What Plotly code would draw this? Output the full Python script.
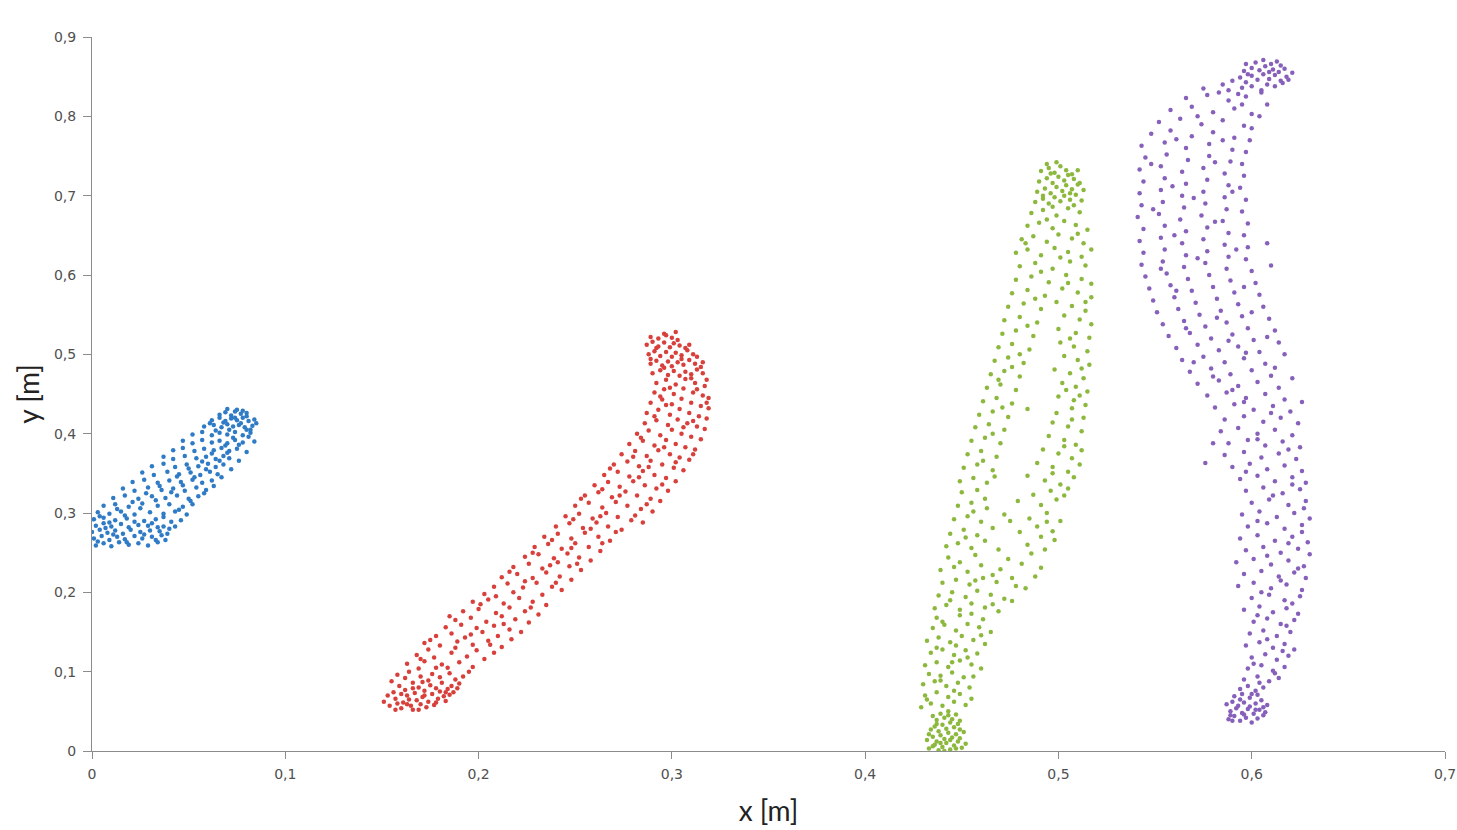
import plotly.graph_objects as go

# ---- data, (x [m], y [m]) pairs per series ----
blue_points = [
    (0.002,0.259),(0.006,0.262),(0.010,0.258),(0.014,0.263),(0.019,0.260),(0.024,0.262),(0.029,0.259),(0.034,0.263),(0.038,0.266),
    (0.001,0.268),(0.005,0.271),(0.009,0.266),(0.013,0.270),(0.017,0.267),(0.022,0.271),(0.026,0.268),(0.031,0.270),(0.036,0.272),
    (0.000,0.276),(0.004,0.279),(0.008,0.275),(0.012,0.278),(0.016,0.274),(0.020,0.279),(0.025,0.276),(0.030,0.278),(0.035,0.277),(0.039,0.274),
    (0.002,0.284),(0.006,0.287),(0.010,0.283),(0.015,0.286),(0.019,0.282),(0.024,0.285),(0.029,0.284),(0.034,0.282),(0.040,0.280),(0.043,0.283),
    (0.001,0.292),(0.006,0.294),(0.012,0.291),(0.018,0.293),(0.027,0.290),(0.033,0.292),(0.041,0.289),(0.046,0.291),
    (0.003,0.301),(0.009,0.299),(0.015,0.302),(0.022,0.298),(0.030,0.301),(0.037,0.299),(0.043,0.302),(0.049,0.298),
    (0.006,0.309),(0.012,0.311),(0.019,0.308),(0.026,0.312),(0.034,0.309),(0.040,0.311),(0.047,0.308),(0.052,0.311),
    (0.011,0.319),(0.017,0.322),(0.024,0.318),(0.031,0.321),(0.038,0.319),(0.044,0.322),(0.050,0.318),(0.055,0.321),
    (0.016,0.331),(0.022,0.328),(0.029,0.332),(0.036,0.329),(0.042,0.331),(0.048,0.328),(0.054,0.332),(0.059,0.329),
    (0.021,0.339),(0.027,0.342),(0.034,0.338),(0.040,0.341),(0.046,0.339),(0.052,0.342),(0.057,0.338),(0.062,0.341),
    (0.026,0.351),(0.032,0.348),(0.039,0.352),(0.045,0.349),(0.051,0.351),(0.056,0.348),(0.061,0.352),(0.065,0.349),
    (0.031,0.359),(0.037,0.362),(0.043,0.358),(0.049,0.361),(0.055,0.359),(0.060,0.362),(0.064,0.358),(0.068,0.361),
    (0.037,0.371),(0.042,0.368),(0.048,0.372),(0.054,0.369),(0.059,0.371),(0.064,0.368),(0.068,0.372),(0.071,0.369),
    (0.042,0.379),(0.047,0.382),(0.053,0.378),(0.058,0.381),(0.063,0.379),(0.067,0.382),(0.071,0.378),(0.075,0.381),
    (0.047,0.391),(0.052,0.388),(0.057,0.392),(0.062,0.389),(0.066,0.391),(0.070,0.388),(0.074,0.392),(0.078,0.389),
    (0.052,0.399),(0.057,0.402),(0.062,0.398),(0.066,0.401),(0.070,0.399),(0.074,0.402),(0.078,0.398),(0.082,0.401),
    (0.058,0.409),(0.063,0.411),(0.067,0.408),(0.070,0.412),(0.073,0.409),(0.076,0.411),(0.079,0.408),(0.083,0.410),(0.085,0.413),
    (0.062,0.417),(0.066,0.420),(0.069,0.416),(0.072,0.419),(0.075,0.417),(0.078,0.420),(0.081,0.416),(0.084,0.418),
    (0.066,0.424),(0.069,0.427),(0.072,0.423),(0.074,0.428),(0.077,0.425),(0.080,0.422),
    (0.070,0.431),(0.075,0.430),(0.078,0.429),
    (0.004,0.296),(0.013,0.305),(0.021,0.314),(0.028,0.325),(0.035,0.334),(0.044,0.346),(0.050,0.356),(0.057,0.365),(0.062,0.375),(0.069,0.385),
    (0.073,0.395),(0.080,0.405),(0.009,0.288),(0.017,0.297),(0.025,0.306),(0.033,0.316),(0.041,0.326),(0.047,0.335),(0.053,0.345),(0.059,0.355),
    (0.066,0.366),(0.070,0.376),(0.076,0.386),(0.081,0.396),(0.031,0.287),(0.037,0.295),(0.045,0.304),(0.051,0.315),(0.058,0.325),(0.063,0.334),
    (0.067,0.345),(0.072,0.355),(0.076,0.366),(0.080,0.377),(0.084,0.390),(0.003,0.264),(0.011,0.273),(0.018,0.263),(0.027,0.273),(0.033,0.266),
    (0.037,0.283),(0.007,0.281),(0.022,0.289),(0.064,0.404),(0.068,0.414),(0.071,0.405),(0.074,0.420),(0.077,0.413),(0.080,0.426),(0.082,0.405),
    (0.061,0.413),
]

red_points = [
    (0.151,0.062),(0.154,0.057),(0.157,0.066),(0.160,0.054),(0.161,0.061),(0.163,0.070),(0.165,0.057),(0.166,0.052),(0.168,0.064),(0.170,0.059),
    (0.171,0.068),(0.173,0.055),(0.174,0.062),(0.176,0.072),(0.177,0.058),(0.179,0.066),(0.180,0.075),(0.182,0.069),(0.184,0.078),(0.185,0.071),
    (0.153,0.070),(0.156,0.074),(0.158,0.060),(0.162,0.077),(0.164,0.065),(0.167,0.073),(0.169,0.080),(0.172,0.076),(0.175,0.083),(0.178,0.079),
    (0.181,0.086),(0.183,0.063),(0.186,0.082),(0.188,0.090),(0.159,0.082),(0.155,0.088),(0.162,0.092),(0.166,0.086),(0.170,0.094),(0.174,0.089),
    (0.187,0.074),(0.190,0.085),(0.176,0.097),(0.180,0.093),(0.158,0.096),(0.164,0.100),(0.169,0.104),(0.185,0.098),(0.192,0.094),(0.178,0.105),
    (0.163,0.110),(0.172,0.113),(0.181,0.109),(0.190,0.112),(0.197,0.106),(0.168,0.121),(0.177,0.118),(0.186,0.124),(0.194,0.119),(0.203,0.116),
    (0.174,0.128),(0.199,0.127),(0.208,0.124),
    (0.172,0.136),(0.180,0.133),(0.189,0.138),(0.197,0.134),(0.205,0.139),(0.212,0.131),(0.178,0.145),(0.186,0.148),(0.193,0.143),(0.202,0.150),
    (0.210,0.145),(0.217,0.141),(0.183,0.156),(0.191,0.159),(0.199,0.155),(0.208,0.158),(0.216,0.153),(0.222,0.150),
    (0.188,0.165),(0.196,0.168),(0.204,0.163),(0.212,0.170),(0.219,0.166),(0.226,0.162),(0.192,0.176),(0.200,0.179),(0.209,0.174),(0.216,0.181),
    (0.224,0.176),(0.231,0.172),(0.197,0.188),(0.205,0.191),(0.213,0.186),(0.221,0.193),(0.228,0.188),(0.235,0.184),(0.203,0.198),(0.218,0.200),(0.233,0.197),
    (0.208,0.207),(0.215,0.211),(0.223,0.206),(0.230,0.212),(0.238,0.207),(0.243,0.203),(0.212,0.219),(0.220,0.223),(0.228,0.218),(0.235,0.225),
    (0.242,0.220),(0.248,0.216),(0.218,0.232),(0.226,0.236),(0.233,0.230),(0.241,0.238),(0.247,0.233),(0.253,0.228),(0.224,0.245),(0.231,0.248),
    (0.239,0.243),(0.246,0.249),(0.252,0.244),(0.258,0.240),
    (0.229,0.257),(0.236,0.261),(0.243,0.255),(0.250,0.262),(0.257,0.257),(0.263,0.252),(0.234,0.270),(0.241,0.274),(0.248,0.268),(0.255,0.275),
    (0.262,0.270),(0.268,0.265),(0.240,0.283),(0.247,0.287),(0.254,0.281),(0.261,0.288),(0.267,0.283),(0.274,0.279),(0.245,0.296),(0.252,0.299),
    (0.259,0.293),(0.266,0.300),(0.272,0.295),(0.279,0.291),(0.285,0.288),
    (0.250,0.309),(0.257,0.313),(0.264,0.307),(0.271,0.314),(0.277,0.309),(0.284,0.305),(0.290,0.302),(0.255,0.322),(0.262,0.326),(0.269,0.320),
    (0.276,0.327),(0.282,0.322),(0.289,0.318),(0.294,0.315),(0.260,0.335),(0.267,0.339),(0.273,0.333),(0.280,0.340),(0.286,0.335),(0.292,0.331),
    (0.298,0.328),(0.265,0.348),(0.272,0.352),(0.278,0.346),(0.285,0.353),(0.291,0.348),(0.297,0.344),(0.302,0.340),
    (0.270,0.361),(0.277,0.365),(0.283,0.359),(0.289,0.366),(0.295,0.361),(0.301,0.357),(0.306,0.354),(0.274,0.374),(0.281,0.378),(0.287,0.372),
    (0.293,0.379),(0.299,0.374),(0.304,0.370),(0.309,0.367),(0.278,0.387),(0.285,0.391),(0.291,0.385),(0.297,0.392),(0.302,0.387),(0.307,0.383),
    (0.312,0.380),(0.282,0.400),(0.288,0.404),(0.294,0.398),(0.300,0.405),(0.305,0.400),(0.310,0.396),(0.315,0.393),(0.286,0.413),(0.292,0.417),
    (0.298,0.411),(0.303,0.418),(0.308,0.413),(0.313,0.409),(0.317,0.406),
    (0.287,0.426),(0.293,0.430),(0.299,0.424),(0.304,0.431),(0.309,0.426),(0.314,0.422),(0.318,0.419),(0.289,0.439),(0.295,0.443),(0.300,0.437),
    (0.305,0.444),(0.310,0.439),(0.315,0.435),(0.319,0.432),(0.291,0.452),(0.296,0.456),(0.301,0.450),(0.306,0.457),(0.311,0.452),(0.316,0.448),
    (0.319,0.445),(0.292,0.464),(0.297,0.468),(0.302,0.462),(0.307,0.469),(0.312,0.464),(0.317,0.460),
    (0.290,0.476),(0.294,0.480),(0.298,0.474),(0.301,0.479),(0.304,0.473),(0.307,0.478),(0.310,0.475),(0.313,0.481),(0.316,0.476),
    (0.289,0.488),(0.292,0.492),(0.295,0.486),(0.298,0.491),(0.300,0.485),(0.303,0.490),(0.306,0.487),(0.309,0.493),(0.312,0.488),(0.315,0.484),
    (0.288,0.500),(0.291,0.504),(0.294,0.498),(0.297,0.503),(0.300,0.497),(0.302,0.502),(0.305,0.499),(0.308,0.505),(0.311,0.500),
    (0.287,0.512),(0.290,0.516),(0.293,0.510),(0.296,0.515),(0.299,0.509),(0.301,0.514),(0.304,0.511),(0.307,0.508),
    (0.289,0.522),(0.293,0.520),(0.297,0.524),(0.300,0.521),(0.303,0.518),
    (0.157,0.052),(0.163,0.059),(0.169,0.052),(0.172,0.070),(0.178,0.061),(0.183,0.074),(0.160,0.072),(0.166,0.079),(0.171,0.087),(0.189,0.079),
    (0.184,0.105),(0.195,0.100),(0.170,0.116),(0.188,0.130),(0.206,0.134),(0.175,0.140),(0.196,0.147),(0.213,0.160),(0.185,0.170),(0.201,0.185),
    (0.227,0.181),(0.209,0.195),(0.224,0.214),(0.240,0.212),(0.216,0.226),(0.237,0.234),(0.251,0.236),(0.228,0.250),(0.248,0.256),(0.264,0.262),
    (0.238,0.266),(0.258,0.280),(0.271,0.276),(0.249,0.292),(0.263,0.296),(0.281,0.297),(0.253,0.318),(0.273,0.322),(0.287,0.311),(0.264,0.330),
    (0.283,0.345),(0.295,0.336),(0.268,0.356),(0.288,0.358),(0.302,0.364),(0.280,0.371),(0.296,0.383),(0.311,0.374),(0.284,0.395),(0.306,0.408),
    (0.291,0.422),(0.311,0.416),(0.297,0.436),(0.318,0.439),(0.294,0.447),(0.313,0.456),(0.299,0.458),(0.310,0.470),(0.296,0.483),(0.318,0.468),
    (0.305,0.494),(0.292,0.508),(0.309,0.512),(0.296,0.526),(0.302,0.528),(0.313,0.497),(0.289,0.494),(0.316,0.490),
]

green_points = [
    (0.433,0.003),(0.436,0.008),(0.438,0.001),(0.440,0.005),(0.442,0.010),(0.444,0.002),(0.446,0.007),(0.448,0.012),(0.450,0.004),(0.452,0.009),
    (0.432,0.014),(0.435,0.018),(0.437,0.012),(0.439,0.020),(0.441,0.015),(0.443,0.023),(0.445,0.017),(0.447,0.021),(0.449,0.016),(0.451,0.024),
    (0.434,0.027),(0.436,0.031),(0.438,0.025),(0.440,0.033),(0.442,0.028),(0.444,0.036),(0.446,0.030),(0.448,0.034),(0.437,0.039),(0.441,0.042),
    (0.445,0.040),(0.449,0.038),(0.435,0.044),(0.439,0.047),(0.443,0.050),
    (0.429,0.055),(0.434,0.060),(0.440,0.057),(0.446,0.062),(0.452,0.058),(0.431,0.070),(0.437,0.074),(0.443,0.068),(0.449,0.072),(0.455,0.066),
    (0.430,0.084),(0.436,0.088),(0.442,0.082),(0.448,0.086),(0.454,0.080),(0.433,0.097),(0.439,0.095),(0.445,0.099),(0.451,0.093),
    (0.431,0.108),(0.437,0.112),(0.443,0.106),(0.449,0.114),(0.455,0.109),(0.460,0.104),(0.434,0.124),(0.440,0.128),(0.446,0.121),(0.452,0.127),
    (0.458,0.123),(0.432,0.139),(0.438,0.143),(0.444,0.137),(0.450,0.145),(0.456,0.140),(0.462,0.135),(0.435,0.155),(0.441,0.159),(0.447,0.152),
    (0.453,0.160),(0.459,0.156),(0.465,0.150),(0.437,0.168),(0.449,0.171),(0.461,0.166),
    (0.436,0.180),(0.442,0.184),(0.449,0.178),(0.455,0.186),(0.462,0.181),(0.469,0.176),(0.476,0.189),(0.438,0.196),(0.445,0.200),(0.452,0.194),
    (0.458,0.202),(0.465,0.197),(0.472,0.192),(0.483,0.205),(0.440,0.212),(0.447,0.216),(0.454,0.210),(0.461,0.218),(0.468,0.213),(0.478,0.208),
    (0.488,0.220),(0.439,0.228),(0.446,0.232),(0.453,0.226),(0.460,0.234),(0.470,0.229),(0.481,0.236),(0.491,0.231),(0.443,0.244),(0.457,0.247),
    (0.474,0.242),(0.486,0.249),
    (0.442,0.258),(0.448,0.262),(0.455,0.256),(0.462,0.265),(0.484,0.260),(0.493,0.254),(0.498,0.266),(0.444,0.274),(0.451,0.279),(0.458,0.272),
    (0.466,0.281),(0.480,0.276),(0.489,0.283),(0.497,0.277),(0.446,0.292),(0.453,0.296),(0.460,0.289),(0.472,0.298),(0.485,0.293),(0.494,0.300),
    (0.501,0.290),(0.448,0.309),(0.455,0.313),(0.463,0.306),(0.479,0.315),(0.491,0.310),(0.499,0.317),(0.450,0.326),(0.458,0.329),(0.487,0.323),
    (0.496,0.328),(0.503,0.322),
    (0.449,0.340),(0.456,0.344),(0.463,0.338),(0.484,0.347),(0.493,0.341),(0.501,0.336),(0.508,0.345),(0.451,0.357),(0.458,0.361),(0.466,0.354),
    (0.489,0.363),(0.497,0.358),(0.505,0.352),(0.511,0.361),(0.453,0.374),(0.460,0.378),(0.468,0.371),(0.492,0.380),(0.500,0.375),(0.507,0.369),
    (0.512,0.379),(0.455,0.391),(0.462,0.395),(0.470,0.388),(0.495,0.397),(0.503,0.392),(0.509,0.386),(0.457,0.408),(0.464,0.412),(0.472,0.405),
    (0.497,0.414),(0.505,0.409),(0.512,0.403),
    (0.459,0.424),(0.466,0.428),(0.474,0.421),(0.484,0.431),(0.499,0.426),(0.507,0.432),(0.513,0.420),(0.461,0.441),(0.468,0.445),(0.476,0.438),
    (0.500,0.447),(0.508,0.442),(0.514,0.436),(0.463,0.458),(0.470,0.462),(0.478,0.455),(0.502,0.464),(0.509,0.459),(0.515,0.453),(0.465,0.475),
    (0.472,0.479),(0.480,0.472),(0.498,0.481),(0.506,0.476),(0.513,0.470),(0.467,0.492),(0.474,0.496),(0.482,0.489),(0.503,0.498),(0.510,0.493),
    (0.516,0.487),(0.469,0.509),(0.476,0.513),(0.485,0.506),(0.501,0.515),(0.508,0.510),(0.515,0.504),
    (0.471,0.526),(0.478,0.530),(0.487,0.523),(0.500,0.532),(0.509,0.527),(0.516,0.521),(0.472,0.543),(0.480,0.547),(0.489,0.540),(0.503,0.549),
    (0.511,0.544),(0.517,0.538),(0.474,0.560),(0.482,0.564),(0.491,0.557),(0.499,0.566),(0.507,0.561),(0.514,0.555),(0.476,0.577),(0.484,0.581),
    (0.493,0.574),(0.502,0.583),(0.510,0.578),(0.517,0.572),(0.478,0.594),(0.486,0.598),(0.495,0.591),(0.504,0.600),(0.512,0.595),(0.517,0.589),
    (0.480,0.611),(0.488,0.615),(0.497,0.608),(0.506,0.617),(0.514,0.612),
    (0.478,0.628),(0.484,0.632),(0.491,0.625),(0.498,0.634),(0.505,0.629),(0.512,0.623),(0.517,0.632),(0.481,0.645),(0.487,0.649),(0.494,0.642),
    (0.500,0.651),(0.507,0.646),(0.513,0.640),(0.484,0.662),(0.490,0.666),(0.497,0.659),(0.503,0.668),(0.509,0.663),(0.515,0.657),(0.486,0.678),
    (0.492,0.682),(0.499,0.675),(0.505,0.684),(0.511,0.679),
    (0.488,0.692),(0.492,0.696),(0.495,0.690),(0.498,0.698),(0.501,0.693),(0.503,0.700),(0.506,0.695),(0.509,0.701),(0.512,0.694),
    (0.489,0.705),(0.493,0.709),(0.496,0.703),(0.499,0.711),(0.502,0.706),(0.504,0.713),(0.507,0.708),(0.510,0.714),(0.513,0.707),
    (0.490,0.718),(0.494,0.722),(0.497,0.716),(0.500,0.724),(0.503,0.719),(0.505,0.726),(0.508,0.721),(0.511,0.716),
    (0.491,0.731),(0.495,0.735),(0.498,0.729),(0.501,0.737),(0.504,0.732),(0.494,0.740),(0.499,0.742),
    (0.435,0.006),(0.441,0.000),(0.447,0.003),(0.439,0.010),(0.444,0.014),(0.449,0.027),(0.433,0.021),(0.437,0.034),(0.443,0.045),(0.447,0.046),
    (0.432,0.065),(0.446,0.076),(0.439,0.089),(0.456,0.094),(0.445,0.112),(0.437,0.130),(0.453,0.118),(0.447,0.133),(0.460,0.146),(0.440,0.163),
    (0.455,0.173),(0.444,0.190),(0.466,0.185),(0.457,0.215),(0.449,0.238),(0.466,0.222),(0.476,0.218),(0.452,0.269),(0.469,0.254),(0.491,0.270),
    (0.456,0.302),(0.475,0.290),(0.494,0.289),(0.462,0.318),(0.505,0.331),(0.467,0.346),(0.497,0.350),(0.461,0.366),(0.503,0.384),(0.466,0.400),
    (0.507,0.418),(0.471,0.433),(0.511,0.448),(0.469,0.468),(0.504,0.455),(0.476,0.484),(0.512,0.482),(0.480,0.500),(0.506,0.520),(0.484,0.536),
    (0.514,0.566),(0.488,0.570),(0.505,0.590),(0.491,0.604),(0.501,0.622),(0.483,0.640),(0.510,0.652),(0.494,0.670),(0.508,0.688),(0.496,0.728),
    (0.507,0.727),(0.510,0.732),(0.492,0.700),(0.506,0.703),(0.497,0.686),
]

purple_points = [
    (0.588,0.040),(0.591,0.044),(0.594,0.038),(0.597,0.042),(0.600,0.036),(0.603,0.041),(0.606,0.045),(0.589,0.050),(0.592,0.054),(0.595,0.048),
    (0.598,0.053),(0.601,0.047),(0.604,0.052),(0.607,0.049),(0.587,0.059),(0.590,0.062),(0.593,0.057),(0.596,0.061),(0.599,0.056),(0.602,0.060),
    (0.605,0.064),(0.608,0.058),(0.591,0.069),(0.595,0.072),(0.599,0.067),(0.603,0.071),(0.594,0.078),(0.598,0.082),(0.602,0.076),(0.606,0.080),
    (0.596,0.090),(0.603,0.094),(0.609,0.088),(0.614,0.092),(0.598,0.104),(0.605,0.108),(0.611,0.101),(0.617,0.106),(0.600,0.118),(0.607,0.122),
    (0.613,0.115),(0.619,0.120),(0.597,0.133),(0.604,0.137),(0.611,0.130),(0.617,0.135),(0.622,0.128),(0.599,0.148),(0.606,0.152),(0.613,0.145),
    (0.620,0.150),(0.601,0.163),(0.608,0.167),(0.615,0.160),(0.622,0.165),(0.596,0.178),(0.604,0.182),(0.611,0.175),(0.618,0.180),(0.624,0.173),
    (0.600,0.193),(0.609,0.197),(0.617,0.190),(0.625,0.195),
    (0.593,0.208),(0.601,0.212),(0.610,0.205),(0.618,0.210),(0.626,0.203),(0.596,0.223),(0.605,0.227),(0.614,0.220),(0.622,0.225),(0.628,0.218),
    (0.592,0.238),(0.601,0.242),(0.610,0.235),(0.619,0.240),(0.627,0.233),(0.597,0.253),(0.606,0.257),(0.615,0.250),(0.624,0.255),(0.630,0.248),
    (0.594,0.268),(0.603,0.272),(0.612,0.265),(0.621,0.270),(0.629,0.263),(0.598,0.283),(0.608,0.287),(0.617,0.280),(0.626,0.285),(0.595,0.298),
    (0.604,0.302),(0.613,0.295),(0.622,0.300),(0.630,0.293),(0.600,0.313),(0.609,0.317),(0.619,0.310),(0.628,0.315),(0.597,0.328),(0.606,0.332),
    (0.616,0.325),(0.625,0.330),
    (0.594,0.343),(0.603,0.347),(0.612,0.340),(0.621,0.345),(0.628,0.338),(0.590,0.358),(0.599,0.362),(0.608,0.355),(0.617,0.360),(0.626,0.353),
    (0.586,0.373),(0.596,0.377),(0.605,0.370),(0.614,0.375),(0.623,0.368),(0.588,0.388),(0.598,0.392),(0.607,0.385),(0.616,0.390),(0.625,0.383),
    (0.584,0.403),(0.593,0.407),(0.603,0.400),(0.612,0.405),(0.621,0.398),(0.586,0.418),(0.596,0.422),(0.606,0.415),(0.615,0.420),(0.624,0.413),
    (0.581,0.433),(0.591,0.437),(0.601,0.430),(0.611,0.435),(0.620,0.428),(0.626,0.440),(0.576,0.363),(0.580,0.388),
    (0.577,0.448),(0.587,0.452),(0.597,0.445),(0.607,0.450),(0.617,0.443),(0.572,0.463),(0.583,0.467),(0.593,0.460),(0.603,0.465),(0.614,0.458),
    (0.621,0.470),(0.568,0.478),(0.579,0.482),(0.589,0.475),(0.600,0.480),(0.610,0.473),(0.564,0.493),(0.575,0.497),(0.586,0.490),(0.596,0.495),
    (0.607,0.488),(0.617,0.500),(0.561,0.508),(0.572,0.512),(0.583,0.505),(0.593,0.510),(0.604,0.503),(0.614,0.515),(0.557,0.523),(0.568,0.527),
    (0.579,0.520),(0.590,0.525),(0.601,0.518),(0.612,0.530),(0.554,0.538),(0.565,0.542),(0.576,0.535),(0.587,0.540),(0.598,0.533),(0.609,0.545),
    (0.551,0.553),(0.562,0.557),(0.573,0.550),(0.584,0.555),(0.595,0.548),(0.606,0.560),(0.549,0.568),(0.560,0.572),(0.571,0.565),(0.582,0.570),
    (0.593,0.563),(0.604,0.575),(0.547,0.583),(0.558,0.587),(0.569,0.580),(0.580,0.585),(0.591,0.578),(0.602,0.590),
    (0.545,0.598),(0.556,0.602),(0.567,0.595),(0.578,0.600),(0.589,0.593),(0.600,0.605),(0.610,0.612),(0.543,0.613),(0.554,0.617),(0.565,0.610),
    (0.576,0.615),(0.587,0.608),(0.597,0.620),(0.544,0.628),(0.555,0.632),(0.566,0.625),(0.577,0.630),(0.588,0.623),(0.598,0.635),(0.608,0.640),
    (0.542,0.643),(0.553,0.647),(0.564,0.640),(0.575,0.645),(0.586,0.638),(0.596,0.650),(0.544,0.658),(0.555,0.662),(0.566,0.655),(0.577,0.660),
    (0.588,0.653),(0.598,0.665),(0.541,0.673),(0.552,0.677),(0.563,0.670),(0.574,0.675),(0.585,0.668),(0.595,0.680),(0.543,0.688),(0.554,0.692),
    (0.565,0.685),(0.576,0.690),(0.587,0.683),(0.597,0.695),(0.542,0.703),(0.553,0.707),(0.564,0.700),(0.575,0.705),(0.586,0.698),(0.594,0.710),
    (0.544,0.718),(0.555,0.722),(0.566,0.715),(0.577,0.720),(0.588,0.713),(0.596,0.725),(0.542,0.733),(0.553,0.737),(0.564,0.730),(0.575,0.735),
    (0.586,0.728),(0.595,0.740),(0.545,0.748),(0.556,0.752),(0.567,0.745),(0.578,0.750),(0.589,0.743),(0.597,0.755),(0.543,0.763),(0.555,0.767),
    (0.566,0.760),(0.578,0.765),(0.590,0.758),(0.599,0.770),
    (0.548,0.778),(0.558,0.782),(0.569,0.775),(0.580,0.780),(0.591,0.773),(0.600,0.785),(0.552,0.793),(0.563,0.797),(0.574,0.790),(0.585,0.795),
    (0.596,0.788),(0.604,0.800),(0.558,0.808),(0.569,0.812),(0.580,0.805),(0.591,0.810),(0.600,0.803),(0.608,0.815),(0.566,0.823),(0.577,0.827),
    (0.588,0.820),(0.597,0.825),(0.605,0.830),(0.575,0.835),(0.585,0.840),(0.595,0.836),
    (0.590,0.845),(0.594,0.849),(0.597,0.843),(0.600,0.851),(0.603,0.846),(0.606,0.853),(0.609,0.847),(0.612,0.852),(0.615,0.845),(0.618,0.850),
    (0.621,0.855),(0.596,0.857),(0.600,0.861),(0.604,0.858),(0.607,0.863),(0.611,0.859),(0.614,0.856),(0.617,0.860),(0.602,0.868),(0.606,0.871),
    (0.610,0.866),(0.613,0.869),(0.600,0.838),(0.608,0.840),(0.616,0.842),(0.588,0.833),(0.612,0.838),
    (0.590,0.038),(0.596,0.046),(0.602,0.052),(0.594,0.065),(0.600,0.072),(0.606,0.055),(0.589,0.045),(0.604,0.086),(0.612,0.098),(0.601,0.110),
    (0.616,0.126),(0.608,0.141),(0.618,0.158),(0.603,0.171),(0.621,0.186),(0.605,0.200),(0.615,0.215),(0.624,0.230),(0.608,0.246),(0.619,0.262),
    (0.626,0.276),(0.603,0.290),(0.627,0.306),(0.611,0.322),(0.621,0.336),(0.597,0.352),(0.619,0.380),(0.603,0.393),(0.610,0.426),(0.596,0.440),
    (0.590,0.455),(0.612,0.483),(0.580,0.472),(0.597,0.502),(0.570,0.490),(0.588,0.517),(0.608,0.522),(0.566,0.533),(0.582,0.546),(0.600,0.553),
    (0.561,0.580),(0.596,0.585),(0.553,0.608),(0.572,0.621),(0.592,0.632),(0.560,0.650),(0.581,0.667),(0.549,0.683),(0.570,0.697),(0.590,0.705),
    (0.559,0.712),(0.581,0.742),(0.548,0.740),(0.561,0.771),(0.585,0.770),(0.572,0.800),(0.595,0.815),(0.583,0.830),(0.593,0.828),(0.609,0.856),
    (0.598,0.853),(0.619,0.846),(0.605,0.833),(0.597,0.866),(0.615,0.864),
]

series = [
    ("Series 1", blue_points, "#2F7BC6"),
    ("Series 2", red_points, "#D8403C"),
    ("Series 3", green_points, "#8DB83E"),
    ("Series 4", purple_points, "#8660BA"),
]

x_ticks = [0, 0.1, 0.2, 0.3, 0.4, 0.5, 0.6, 0.7]
y_ticks = [0, 0.1, 0.2, 0.3, 0.4, 0.5, 0.6, 0.7, 0.8, 0.9]

fig = go.Figure()
for name, pts, color in series:
    fig.add_trace(go.Scatter(
        x=[p[0] for p in pts], y=[p[1] for p in pts],
        mode="markers", name=name,
        marker=dict(size=4.5, color=color, line=dict(width=0)),
    ))

TICKFONT = "DejaVu Sans, Liberation Sans, sans-serif"
TITLEFONT = "Lato, Liberation Sans, sans-serif"
axis_common = dict(
    showgrid=False, zeroline=False, showline=True, linecolor="#8C8C8C", linewidth=1,
    ticks="outside", tickcolor="#8C8C8C",
    tickfont=dict(family=TICKFONT, size=14, color="#505050"),
)

fig.update_layout(
    width=1457, height=830,
    paper_bgcolor="white", plot_bgcolor="white",
    margin=dict(l=92, r=12, t=37, b=79, autoexpand=False),
    separators=", ",
    showlegend=False,
    xaxis=dict(range=[0, 0.7], tickvals=x_ticks, ticklen=7, ticklabelstandoff=3,
               title=dict(text="x [m]", font=dict(family=TITLEFONT, size=28, color="#222222"), standoff=20),
               **axis_common),
    yaxis=dict(range=[0, 0.9], tickvals=y_ticks, ticklen=8, ticklabelstandoff=4,
               title=dict(text="y [m]", font=dict(family=TITLEFONT, size=28, color="#222222"), standoff=6),
               **axis_common),
)

# remove the page's default body margin so the figure fills the window exactly
fig.write_html(
    "out.html",
    config={"displayModeBar": False},
    post_script="document.body.style.margin='0';document.body.style.overflow='hidden';",
)
